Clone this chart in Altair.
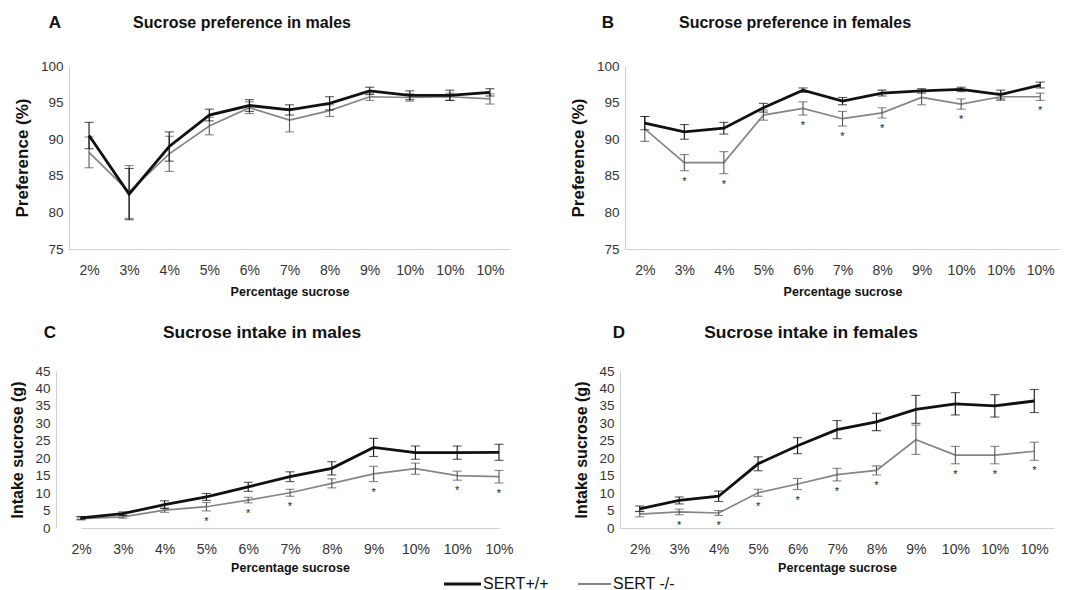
import altair as alt
import pandas as pd

labels = ["2%", "3%", "4%", "5%", "6%", "7%", "8%", "9%", "10%", "10%", "10%"]
groups = ["SERT+/+", "SERT -/-"]

# A: preference males
pm_wt = [90.5, 82.5, 89.0, 93.3, 94.6, 94.0, 94.9, 96.6, 96.0, 96.0, 96.4]
pm_wt_err = [1.8, 3.5, 2.0, 0.8, 0.8, 0.7, 0.9, 0.5, 0.6, 0.7, 0.5]
pm_ko = [88.2, 82.8, 88.0, 91.8, 94.3, 92.6, 93.9, 95.8, 95.7, 95.8, 95.5]
pm_ko_err = [2.1, 3.6, 2.4, 1.2, 0.8, 1.6, 0.8, 0.5, 0.5, 0.5, 0.7]
pm_sig = []

# B: preference females
pf_wt = [92.2, 91.0, 91.5, 94.3, 96.7, 95.2, 96.3, 96.6, 96.8, 96.1, 97.4]
pf_wt_err = [0.9, 1.0, 0.8, 0.6, 0.3, 0.5, 0.4, 0.3, 0.3, 0.6, 0.4]
pf_ko = [91.4, 86.8, 86.8, 93.3, 94.2, 92.8, 93.6, 95.7, 94.8, 95.8, 95.8]
pf_ko_err = [1.7, 1.1, 1.5, 0.7, 0.9, 1.0, 0.7, 1.0, 0.7, 0.5, 0.5]
pf_sig = [1, 2, 4, 5, 6, 8, 10]

# C: intake males
im_wt = [2.9, 4.1, 6.7, 8.9, 11.8, 14.7, 17.1, 23.1, 21.6, 21.6, 21.7]
im_wt_err = [0.4, 0.5, 1.1, 1.0, 1.3, 1.4, 1.9, 2.6, 1.9, 1.9, 2.3]
im_ko = [2.7, 3.2, 5.1, 6.1, 8.0, 10.1, 12.8, 15.5, 17.0, 15.0, 14.7]
im_ko_err = [0.4, 0.4, 0.6, 1.2, 0.8, 1.0, 1.3, 2.2, 1.6, 1.3, 1.8]
im_sig = [3, 4, 5, 7, 9, 10]

# D: intake females
if_wt = [5.5, 7.9, 9.1, 18.4, 23.6, 28.2, 30.4, 34.0, 35.6, 35.0, 36.4]
if_wt_err = [0.8, 1.0, 1.5, 2.0, 2.3, 2.6, 2.5, 4.0, 3.2, 3.2, 3.3]
if_ko = [4.0, 4.6, 4.3, 10.1, 12.6, 15.3, 16.5, 25.3, 20.9, 20.9, 22.0]
if_ko_err = [0.8, 0.8, 0.7, 1.0, 1.6, 1.8, 1.3, 4.2, 2.5, 2.5, 2.6]
if_sig = [1, 2, 3, 4, 5, 6, 8, 9, 10]

pref_ticks = [75, 80, 85, 90, 95, 100]
intake_ticks = [0, 5, 10, 15, 20, 25, 30, 35, 40, 45]

FONT = "Liberation Sans"
BLACK = "#111111"
GRAY = "#858585"
label_expr = "[" + ",".join("'%s'" % l for l in labels) + "][datum.value]"


def frame(m, e):
    return pd.DataFrame({"i": list(range(11)), "mean": m,
                         "lo": [a - b for a, b in zip(m, e)],
                         "hi": [a + b for a, b in zip(m, e)]})


def panel(letter, title, wt, wt_err, ko, ko_err, sig, ydom, yticks, ytitle,
          w, h, letter_x, title_x, top_y, ytitle_size, title_size, xlab_pad,
          xtitle_pad, xrange=None, yoffset=0):
    dwt = frame(wt, wt_err)
    dko = frame(ko, ko_err)
    dsig = dko[dko["i"].isin(sig)]
    if xrange is None:
        xs = alt.Scale(type="point", padding=0.5)
    else:
        xs = alt.Scale(type="point", padding=0, range=xrange)
    x = alt.X("i:O", scale=xs,
              axis=alt.Axis(title="Percentage sucrose", labelExpr=label_expr,
                            labelAngle=0, ticks=False, labelPadding=xlab_pad,
                            labelFontSize=14, titleFontSize=12.5,
                            titleFontWeight="bold", titlePadding=xtitle_pad))
    yscale = alt.Scale(domain=ydom, nice=False, zero=False)
    yaxis = alt.Axis(values=yticks, title=ytitle, ticks=False,
                     labelOverlap=False, labelPadding=6, offset=yoffset,
                     labelFontSize=13.5, titleFontSize=ytitle_size,
                     titleFontWeight="bold", titlePadding=9)

    def Y(field):
        return alt.Y(field, scale=yscale, axis=yaxis)

    layers = []
    for d, col, sw, ecol in [(dko, GRAY, 1.7, "#555555"), (dwt, BLACK, 2.8, BLACK)]:
        b = alt.Chart(d)
        layers.append(b.mark_line(color=col, strokeWidth=sw).encode(x=x, y=Y("mean:Q")))
        layers.append(b.mark_rule(color=ecol, strokeWidth=1.1).encode(
            x=x, y=Y("lo:Q"), y2="hi:Q"))
        layers.append(b.mark_tick(color=ecol, thickness=1.1, size=9, orient="horizontal").encode(
            x=x, y=Y("lo:Q")))
        layers.append(b.mark_tick(color=ecol, thickness=1.1, size=9, orient="horizontal").encode(
            x=x, y=Y("hi:Q")))
    if len(dsig):
        layers.append(alt.Chart(dsig).mark_text(text="*", fontSize=11, color="#222222",
                                                 baseline="top", dy=5, font=FONT).encode(
            x=x, y=Y("lo:Q")))
    one = pd.DataFrame({"k": [0]})
    layers.append(alt.Chart(one).mark_text(text=letter, font=FONT, fontSize=17,
                                            fontWeight="bold", align="center", color="#111").encode(
        x=alt.value(letter_x), y=alt.value(top_y)))
    layers.append(alt.Chart(one).mark_text(text=title, font=FONT, fontSize=title_size,
                                            fontWeight="bold", align="center", color="#111").encode(
        x=alt.value(title_x), y=alt.value(top_y)))
    return alt.layer(*layers).properties(width=w, height=h)


A = panel("A", "Sucrose preference in males", pm_wt, pm_wt_err, pm_ko, pm_ko_err, pm_sig,
          [75, 100], pref_ticks, "Preference (%)", 441, 183, -14, 173, -43, 17, 16, 14, 8)
B = panel("B", "Sucrose preference in females", pf_wt, pf_wt_err, pf_ko, pf_ko_err, pf_sig,
          [75, 100], pref_ticks, "Preference (%)", 435, 183, -17, 170, -43, 17, 16, 14, 8)
C = panel("C", "Sucrose intake in males", im_wt, im_wt_err, im_ko, im_ko_err, im_sig,
          [0, 45], intake_ticks, "Intake sucrose (g)", 451, 157, -19, 193, -38, 16, 17.4, 14, 5,
          xrange=[12, 430], yoffset=13)
D = panel("D", "Sucrose intake in females", if_wt, if_wt_err, if_ko, if_ko_err, if_sig,
          [0, 45], intake_ticks, "Intake sucrose (g)", 434, 157, -1, 191, -38, 16, 17.4, 14, 5)

one = pd.DataFrame({"k": [0]})
LX = -68
legend = alt.layer(
    alt.Chart(one).mark_rule(color=BLACK, strokeWidth=3).encode(
        x=alt.value(LX + 443), x2=alt.value(LX + 480), y=alt.value(7)),
    alt.Chart(one).mark_text(text=groups[0], font=FONT, fontSize=16, align="left",
                             baseline="middle", color="#111").encode(
        x=alt.value(LX + 482), y=alt.value(7)),
    alt.Chart(one).mark_rule(color=GRAY, strokeWidth=1.8).encode(
        x=alt.value(LX + 577), x2=alt.value(LX + 610), y=alt.value(7)),
    alt.Chart(one).mark_text(text=groups[1], font=FONT, fontSize=16, align="left",
                             baseline="middle", color="#111").encode(
        x=alt.value(LX + 612), y=alt.value(7)),
).properties(width=900, height=12)

chart = alt.vconcat(
    alt.vconcat(
        alt.hconcat(A, B, spacing=59),
        alt.hconcat(C, D, spacing=53),
        spacing=26,
    ),
    legend,
    spacing=2,
).configure(
    background="white", padding={"left": 1, "top": 6, "right": 0, "bottom": 0}
).configure_view(stroke=None).configure_axis(
    domainColor="#cfcfcf", grid=False, labelFont=FONT, titleFont=FONT,
    labelColor="#333333", titleColor="#111111"
)

chart.save("out.html", embed_options={"renderer": "svg", "actions": False})
